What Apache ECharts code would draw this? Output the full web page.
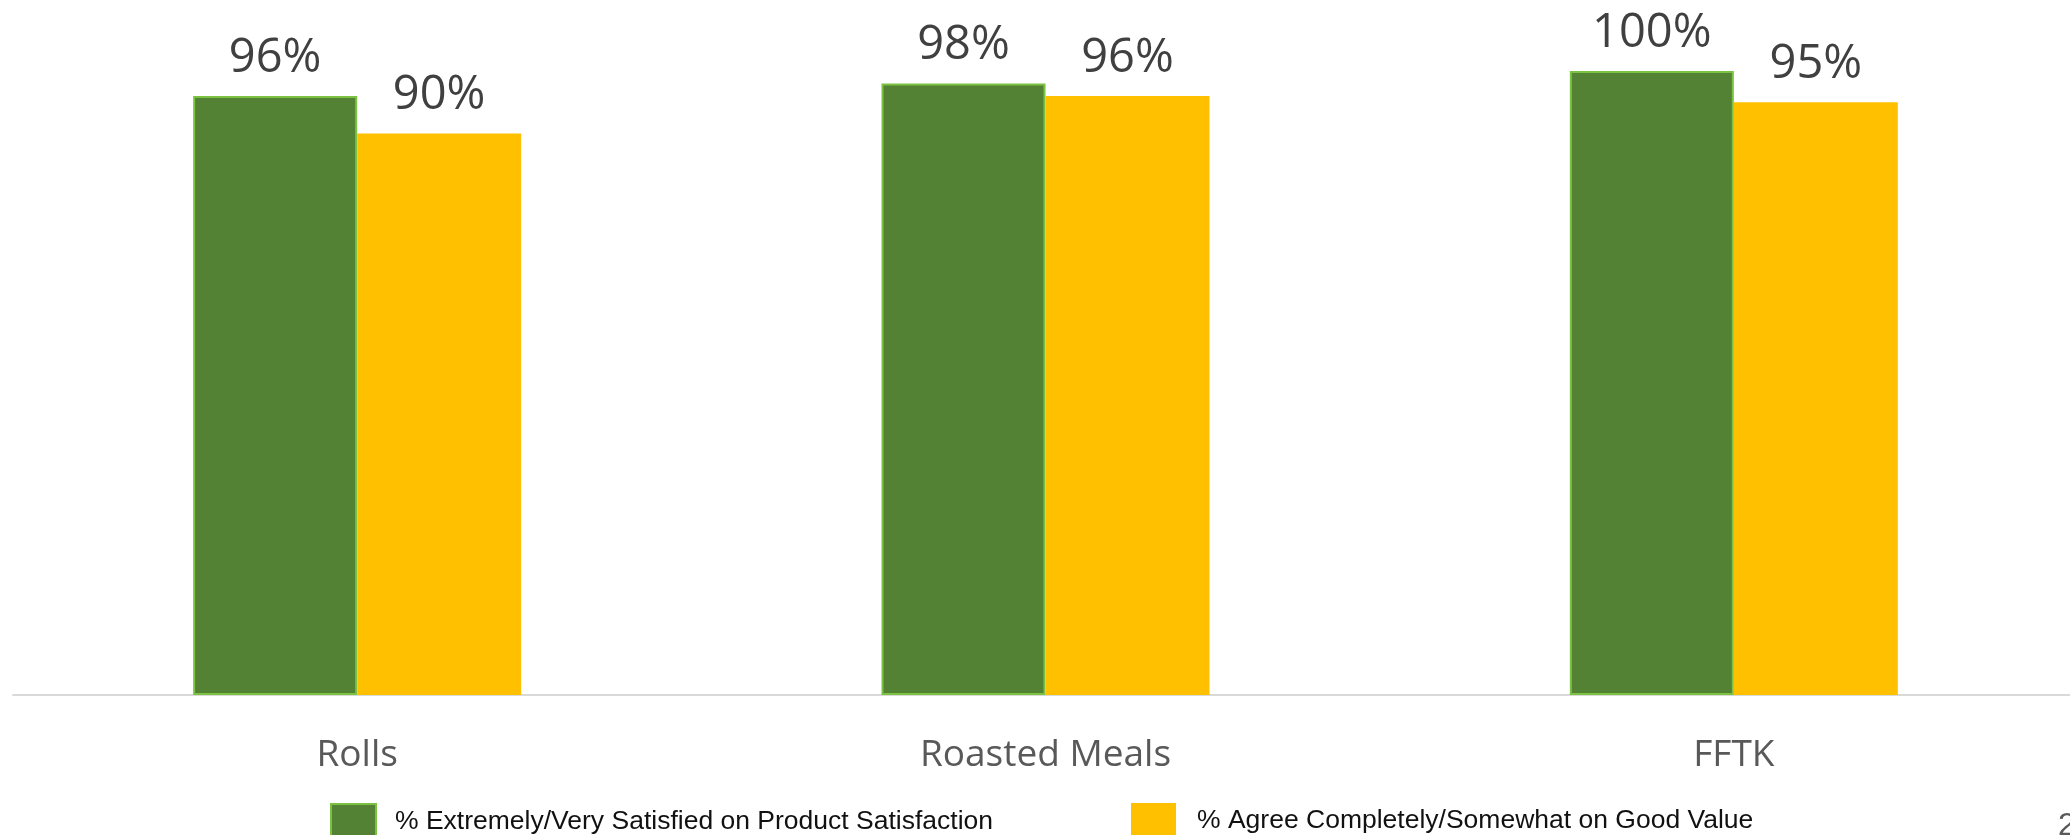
<!DOCTYPE html>
<html>
<head>
<meta charset="utf-8">
<script src="https://cdn.jsdelivr.net/npm/echarts@6/dist/echarts.min.js"></script>
<style>
html,body{margin:0;padding:0;background:#ffffff;overflow:hidden;}
#chart{width:2100px;height:835px;}
</style>
</head>
<body>
<div id="chart"></div>
<script>
const categories = ['Rolls', 'Roasted Meals', 'FFTK'];
const satisfactionName = '% Extremely/Very Satisfied on Product Satisfaction';
const valueName = '% Agree Completely/Somewhat on Good Value';
const satisfactionValues = [96, 98, 100];
const goodValueValues = [90, 96, 95];
const pageNumber = '2';

const chart = echarts.init(document.getElementById('chart'));
const labelStyle = {
  show: true,
  position: 'top',
  distance: 14,
  formatter: p => p.value + '%',
  fontFamily: 'Open Sans',
  fontSize: 47,
  color: '#404040'
};
chart.setOption({
  animation: false,
  backgroundColor: '#ffffff',
  grid: { left: 13, width: 2065, top: 71, bottom: 140 },
  xAxis: {
    type: 'category',
    data: categories,
    axisLine: { lineStyle: { color: '#D9D9D9', width: 2 } },
    axisTick: { show: false },
    axisLabel: { fontFamily: 'Open Sans', fontSize: 37, color: '#595959', margin: 42 }
  },
  yAxis: { type: 'value', min: 0, max: 100, show: false, splitLine: { show: false } },
  legend: [
    {
      data: [satisfactionName], left: 330, top: 803, padding: 0, itemWidth: 45, itemHeight: 36, itemGap: 0,
      icon: 'rect',
      textStyle: { fontFamily: 'Liberation Sans', fontSize: 26.5, color: '#111111', padding: [0, 0, 0, 14] }
    },
    {
      data: [valueName], left: 1131, top: 803, padding: 0, itemWidth: 45, itemHeight: 36, itemGap: 0,
      icon: 'rect',
      textStyle: { fontFamily: 'Liberation Sans', fontSize: 26.5, color: '#111111', padding: [0, 0, 0, 16] }
    }
  ],
  graphic: [{
    type: 'text', left: 2058, top: 810,
    style: { text: pageNumber, fontFamily: 'Liberation Sans', fontSize: 32, fill: '#595959' }
  }],
  series: [
    {
      name: satisfactionName, type: 'bar', data: satisfactionValues,
      barWidth: 164, barGap: '0%',
      itemStyle: { color: '#548235', borderColor: '#7CC242', borderWidth: 2 },
      label: labelStyle
    },
    {
      name: valueName, type: 'bar', data: goodValueValues,
      barWidth: 164,
      itemStyle: { color: '#FFC000' },
      label: labelStyle
    }
  ]
});
</script>
</body>
</html>
